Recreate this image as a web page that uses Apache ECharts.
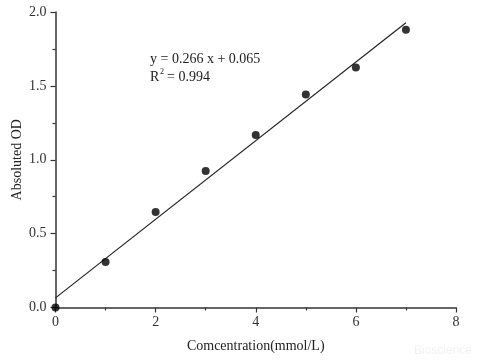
<!DOCTYPE html>
<html><head><meta charset="utf-8">
<script src="https://cdn.jsdelivr.net/npm/echarts@6/dist/echarts.min.js"></script>
<style>html,body{margin:0;padding:0;background:#fff}#c{width:480px;height:361px}</style>
</head><body><div id="c"></div>
<script>
var concentration = [0, 1, 2, 3, 4, 5, 6, 7];
var absorbance = [0, 0.308, 0.646, 0.924, 1.167, 1.442, 1.624, 1.88];
var slope = 0.266, intercept = 0.065;
var fitX = [0, 7];
var xTicks = [0, 2, 4, 6, 8];
var yTicks = [0.0, 0.5, 1.0, 1.5, 2.0];

var points = concentration.map(function (x, i) { return [x, absorbance[i]]; });
var fitLine = fitX.map(function (x) { return [x, slope * x + intercept]; });
var font = 'Liberation Serif';
var chart = echarts.init(document.getElementById('c'));
chart.setOption({
  animation: false,
  grid: { left: 55.5, right: 24, top: 12, bottom: 53.5, containLabel: false, outerBoundsMode: 'none' },
  xAxis: {
    type: 'value', min: xTicks[0], max: xTicks[xTicks.length - 1], interval: 2,
    name: 'Comcentration(mmol/L)', nameLocation: 'middle', nameGap: 32, nameMoveOverlap: false,
    nameTextStyle: { fontFamily: font, fontSize: 14, color: '#222' },
    axisLine: { lineStyle: { color: '#333', width: 1.5 } },
    axisTick: { inside: false, length: 5, lineStyle: { color: '#333', width: 1.2 } },
    minorTick: { show: true, splitNumber: 2, length: 3, lineStyle: { color: '#333', width: 1.2 } },
    axisLabel: { fontFamily: font, fontSize: 14, color: '#333', margin: 8 },
    splitLine: { show: false }
  },
  yAxis: {
    type: 'value', min: yTicks[0], max: yTicks[yTicks.length - 1], interval: 0.5,
    name: 'Absoluted OD', nameLocation: 'middle', nameGap: 31, nameRotate: 90, nameMoveOverlap: false,
    nameTextStyle: { fontFamily: font, fontSize: 14, color: '#222' },
    axisLine: { show: true, lineStyle: { color: '#333', width: 1.5 } },
    axisTick: { show: true, inside: false, length: 5, lineStyle: { color: '#333', width: 1.2 } },
    minorTick: { show: true, splitNumber: 2, length: 3, lineStyle: { color: '#333', width: 1.2 } },
    axisLabel: { fontFamily: font, fontSize: 14, color: '#333', margin: 9,
      formatter: function (v) { return v.toFixed(1); } },
    splitLine: { show: false }
  },
  graphic: [
    { type: 'text', left: 150, top: 52, style: { text: 'y = 0.266 x + 0.065', font: '14px "Liberation Serif"', fill: '#222' } },
    { type: 'text', left: 150, top: 70, style: { text: 'R', font: '14px "Liberation Serif"', fill: '#222' } },
    { type: 'text', left: 160, top: 68, style: { text: '2', font: '8px "Liberation Serif"', fill: '#222' } },
    { type: 'text', left: 167, top: 70, style: { text: '= 0.994', font: '14px "Liberation Serif"', fill: '#222' } },
    { type: 'text', right: 8, bottom: 4, style: { text: 'Bioscience', font: '12px "Liberation Sans"', fill: '#f2f2f2' } }
  ],
  series: [
    { type: 'line', data: fitLine, showSymbol: false, symbol: 'none',
      lineStyle: { color: '#222', width: 1.2 }, z: 2 },
    { type: 'scatter', data: points, symbol: 'circle', symbolSize: 8,
      itemStyle: { color: '#000' }, clip: true, z: 3 }
  ]
});
</script></body></html>
